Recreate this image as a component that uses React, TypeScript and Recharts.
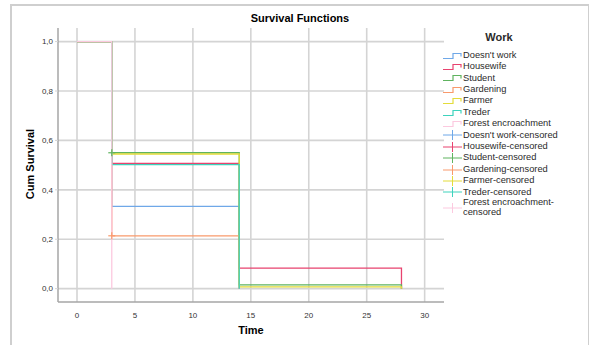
import React from "react";
import { ComposedChart, Line, Scatter, XAxis, YAxis, CartesianGrid } from "recharts";

// Kaplan-Meier steps per work group: [time, cum survival]
const doesntWork = [[0, 1], [3, 0.333], [14, 0]];
const housewife = [[0, 1], [3, 0.507], [14, 0.083], [28, 0]];
const student = [[0, 1], [3, 0.55], [14, 0.015], [28, 0]];
const gardening = [[0, 1], [3, 0.214], [14, 0]];
const farmer = [[0, 1], [3, 0.545], [14, 0.007], [28, 0]];
const treder = [[0, 1], [3, 0.502], [14, 0]];
const forest = [[0, 1], [3, 0]];

// censored observations
const studentCensored = [[3, 0.55]];
const gardeningCensored = [[3, 0.214]];

const groupNames = ["Doesn't work", "Housewife", "Student", "Gardening", "Farmer", "Treder", "Forest encroachment"];
const groupColors = ["#6fa8e8", "#e8436f", "#5fb35f", "#f99a6c", "#e3dc3a", "#3ed3bd", "#fcc9df"];
const groupSteps = [doesntWork, housewife, student, gardening, farmer, treder, forest];
const censoredSets = [[], [], studentCensored, gardeningCensored, [], [], []];

const xTicks = [0, 5, 10, 15, 20, 25, 30];
const yTicks = [0, 0.2, 0.4, 0.6, 0.8, 1.0];

const toPoints = (arr: number[][]) => arr.map(([t, s]) => ({ t, s }));

const font = "'Liberation Sans', Arial, sans-serif";

const Plus = (props: any) => {
  const { cx, cy, fill } = props;
  if (cx == null || cy == null) return null;
  return (
    <g stroke={fill} strokeWidth={1.2}>
      <line x1={cx - 3.5} y1={cy} x2={cx + 3.5} y2={cy} />
      <line x1={cx} y1={cy - 3.5} x2={cx} y2={cy + 3.5} />
    </g>
  );
};

function LegendBox() {
  const rows = [
    ...groupNames.map((n, i) => ({ name: n, color: groupColors[i], censored: false })),
    ...groupNames.map((n, i) => ({ name: `${n}-censored`, color: groupColors[i], censored: true })),
  ];
  return (
    <div style={{ position: "absolute", left: 443, top: 30, fontFamily: font, color: "#2a2a2a" }}>
      <div style={{ fontWeight: "bold", fontSize: 11, width: 112, textAlign: "center", height: 20, lineHeight: "15px" }}>Work</div>
      {rows.map((r) => (
        <div key={r.name} style={{ display: "flex", alignItems: "center", minHeight: 11.4, fontSize: 9.3 }}>
          <svg width={20} height={10} style={{ flex: "none" }}>
            {r.censored ? (
              <g stroke={r.color} strokeWidth={1}>
                <line x1={0} y1={5} x2={19} y2={5} />
                <line x1={9.5} y1={0} x2={9.5} y2={10} />
              </g>
            ) : (
              <path d="M0 7.5 H10 V2.5 H18 V5.5" fill="none" stroke={r.color} strokeWidth={1.2} />
            )}
          </svg>
          <span style={{ maxWidth: 106, lineHeight: "9.6px", whiteSpace: "normal" }}>{r.name}</span>
        </div>
      ))}
    </div>
  );
}

export default function App() {
  return (
    <div style={{ position: "absolute", left: 0, top: 0, width: 589, height: 345, overflow: "hidden", background: "#fff" }}>
      <div style={{ position: "absolute", left: 10, top: 4, width: 576, height: 400, border: "2px solid #cfcfcf" }} />
      <div style={{ position: "absolute", left: 0, top: 12, width: 600, textAlign: "center", fontFamily: font, fontWeight: "bold", fontSize: 11 }}>
        Survival Functions
      </div>
      <div
        style={{
          position: "absolute", left: 30, top: 164, transform: "translate(-50%, -50%) rotate(-90deg)",
          fontFamily: font, fontWeight: "bold", fontSize: 11, whiteSpace: "nowrap",
        }}
      >
        Cum Survival
      </div>
      <div style={{ position: "absolute", left: 200, top: 324, width: 102, textAlign: "center", fontFamily: font, fontWeight: "bold", fontSize: 11 }}>
        Time
      </div>
      <div style={{ position: "absolute", left: 0, top: 0 }}>
        <ComposedChart width={589} height={345} margin={{ top: 28, right: 145, left: 28, bottom: 23 }}>
          <CartesianGrid stroke="#d4d4d4" strokeWidth={1.6} horizontalValues={yTicks} verticalValues={xTicks} />
          <XAxis
            type="number"
            dataKey="t"
            domain={[-1.64, 31.67]}
            ticks={xTicks}
            allowDataOverflow
            height={20}
            axisLine={{ stroke: "#a6a6a6", strokeWidth: 1.5 }}
            tickLine={false}
            tickMargin={4}
            tick={{ fontSize: 8, fill: "#333", fontFamily: font }}
          />
          <YAxis
            type="number"
            domain={[-0.054, 1.055]}
            ticks={yTicks}
            allowDataOverflow
            width={30}
            axisLine={{ stroke: "#a6a6a6", strokeWidth: 1.5 }}
            tickLine={{ stroke: "#d4d4d4" }}
            tickSize={3}
            tickMargin={2}
            tickFormatter={(v: number) => v.toFixed(1).replace(".", ",")}
            tick={{ fontSize: 8, fill: "#333", fontFamily: font }}
          />
          {groupSteps.map((steps, i) => (
            <Line
              key={groupNames[i]}
              data={toPoints(steps)}
              dataKey="s"
              type="stepAfter"
              stroke={groupColors[i]}
              strokeWidth={1.3}
              dot={false}
              activeDot={false}
              isAnimationActive={false}
            />
          ))}
          {censoredSets.map((pts, i) =>
            pts.length ? (
              <Scatter
                key={`${groupNames[i]}-censored`}
                data={toPoints(pts)}
                dataKey="s"
                fill={groupColors[i]}
                shape={<Plus />}
                isAnimationActive={false}
              />
            ) : null
          )}
        </ComposedChart>
      </div>
      <LegendBox />
    </div>
  );
}
